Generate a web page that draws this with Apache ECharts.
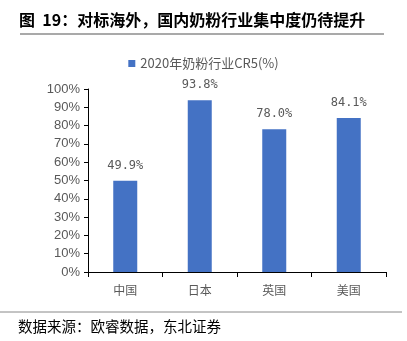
<!DOCTYPE html>
<html><head><meta charset="utf-8">
<script src="https://cdn.jsdelivr.net/npm/echarts@6/dist/echarts.min.js"></script>
<style>html,body{margin:0;padding:0;background:#fff}#c{width:407px;height:341px}</style>
</head><body><div id="c"></div>
<script>
const categories = ['中国', '日本', '英国', '美国'];
const values = [49.9, 93.8, 78.0, 84.1];
const seriesName = '2020年奶粉行业CR5(%)';
const titleText = '图  19：对标海外，国内奶粉行业集中度仍待提升';
const sourceText = '数据来源：欧睿数据，东北证券';

const chart = echarts.init(document.getElementById('c'));
chart.setOption({
  animation: false,
  graphic: [
    {type:'text', left:19, top:12, style:{text:titleText, font:'bold 16px "Noto Sans CJK SC", serif', fill:'#000'}},
    {type:'line', shape:{x1:20, y1:34, x2:384, y2:34}, style:{stroke:'#555', lineWidth:1.2}},
    {type:'line', shape:{x1:0, y1:312, x2:402, y2:312}, style:{stroke:'#888', lineWidth:1}},
    {type:'text', left:18, top:319, style:{text:sourceText, font:'14.5px "Noto Sans CJK SC", serif', fill:'#000'}}
  ],
  legend: {
    top: 52, left: 'center',
    itemWidth: 7, itemHeight: 7, itemGap: 4,
    textStyle: {fontSize: 13, color: '#595959', fontFamily: '"Noto Sans CJK SC", sans-serif'},
    data: [{name: seriesName, icon: 'rect'}]
  },
  grid: {left: 88, right: 21, top: 89, bottom: 69, containLabel: false},
  xAxis: {
    type: 'category', data: categories,
    axisLine: {lineStyle: {color: '#000'}},
    axisTick: {show: true, alignWithLabel: false, lineStyle: {color: '#000'}},
    axisLabel: {color: '#595959', fontSize: 12, margin: 12, fontFamily: '"Noto Sans CJK SC", sans-serif'}
  },
  yAxis: {
    type: 'value', min: 0, max: 100, interval: 10,
    axisLine: {show: true, lineStyle: {color: '#000'}},
    axisTick: {show: true, inside: false, length: 4, lineStyle: {color: '#000'}},
    splitLine: {show: false},
    axisLabel: {formatter: '{value}%', color: '#595959', fontSize: 13, margin: 8, fontFamily: '"Liberation Sans", Arial, sans-serif'}
  },
  series: [{
    name: seriesName, type: 'bar', data: values, barWidth: 24,
    itemStyle: {color: '#4472C4'},
    label: {show: true, position: 'top', distance: 9, formatter: p => p.value.toFixed(1) + '%',
      color: '#595959', fontSize: 12, fontFamily: '"DejaVu Sans Mono", monospace'}
  }]
});
</script></body></html>
